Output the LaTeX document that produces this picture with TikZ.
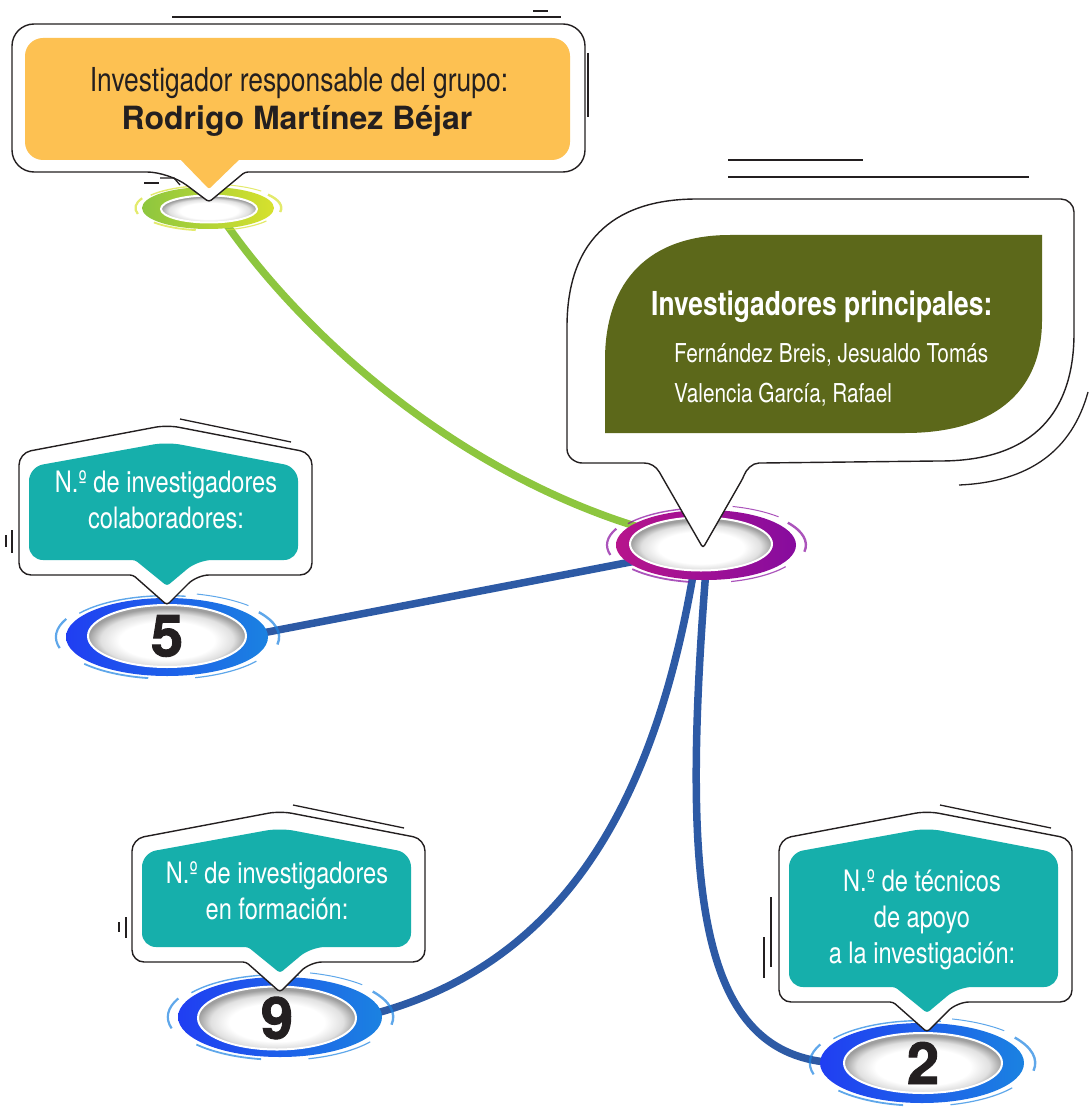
\documentclass[tikz,border=0pt]{standalone}
\usepackage{fontspec}
\setmainfont{TeX Gyre Heros}
\newfontfamily\condfont{TeX Gyre Heros}[FakeStretch=0.8]
\newfontfamily\digitfont{TeX Gyre Heros Bold}[FakeBold=1.6]
\usetikzlibrary{shapes.geometric,backgrounds}

\definecolor{inkgray}{RGB}{35,31,32}
\definecolor{leadorange}{RGB}{253,193,82}
\definecolor{pileaf}{RGB}{92,104,26}
\definecolor{tealfill}{RGB}{22,175,171}
\definecolor{linkgreen}{RGB}{141,198,63}
\definecolor{linkblue}{RGB}{45,90,165}
\definecolor{ringgreen}{RGB}{141,198,63}
\definecolor{ringyellow}{RGB}{215,225,45}
\definecolor{ringmagenta}{RGB}{182,20,140}
\definecolor{ringpurple}{RGB}{135,12,158}
\definecolor{ringblue}{RGB}{32,62,242}
\definecolor{ringsky}{RGB}{27,130,225}

\pgfdeclareradialshading{holeshade}{\pgfpoint{0bp}{-5bp}}{%
  color(0bp)=(white); color(15bp)=(white); color(21bp)=(black!12);
  color(25bp)=(black!38); color(50bp)=(black!38)}

% brush ring: x, y, x radius, y radius, left colour, right colour
\newcommand{\brushring}[6]{%
  \shade[left color=#5, right color=#6] (#1,#2) ellipse[x radius=#3, y radius=#4];
  \foreach \sa/\ea/\sc/\lw in {165/205/1.10/2.2, 215/280/1.06/1.4, 325/370/1.11/2.4,
      35/75/1.08/1.2, 100/140/1.07/1.8, 285/315/1.14/1}
    \draw[#6, line width=\lw, opacity=.7] (#1,#2) ++(\sa:{#3*\sc} and {#4*\sc})
      arc[start angle=\sa, end angle=\ea, x radius=#3*\sc, y radius=#4*\sc];
}

\tikzset{
  outline/.style={draw=inkgray, line width=1.4pt, fill=white},
  echoline/.style={draw=inkgray, line width=1.3pt},
  hole/.style={ellipse, inner sep=0pt, draw=white, line width=2pt,
    shading=holeshade, font=\digitfont\fontsize{58}{58}\selectfont, text=inkgray},
  greenlink/.style={draw=linkgreen, line width=7.5pt},
  bluelink/.style={draw=linkblue, line width=7.5pt},
  leadtext/.style={inner sep=0pt, text=inkgray, font=\condfont\fontsize{33}{40}\selectfont},
  leadname/.style={inner sep=0pt, text=inkgray, font=\bfseries\fontsize{32}{38}\selectfont},
  pihead/.style={inner sep=0pt, text=white, font=\condfont\bfseries\fontsize{33}{40}\selectfont},
  piname/.style={inner sep=0pt, text=white, font=\condfont\fontsize{26}{38}\selectfont},
  tealtext/.style={inner sep=0pt, text=white, align=center,
    font=\condfont\fontsize{29.5}{36}\selectfont},
  pics/bubble/.style={code={
    \draw[outline, rounded corners=12] (0,0) -- (145,28) -- (145,#1) -- (30,#1)
      [rounded corners=3] -- (0,#1+30) -- (-34,#1) [rounded corners=12]
      -- (-148,#1) -- (-148,28) -- cycle;
    \fill[tealfill, rounded corners=14] (0,17) -- (131,42) -- (131,#1-15) -- (31,#1-15)
      [rounded corners=3] -- (0,#1+11) -- (-32,#1-15) [rounded corners=14]
      -- (-138,#1-15) -- (-138,42) -- cycle;
    \draw[echoline] (13,-6) -- (124,17);
  }}
}

\begin{document}
\begin{tikzpicture}[x=1pt,y=-1pt]
  \useasboundingbox (0,0) rectangle (1088,1107);

  % rings
  \brushring{208}{208}{66}{21}{ringgreen}{ringyellow}
  \brushring{706}{545}{90}{35}{ringmagenta}{ringpurple}
  \brushring{167}{637}{101}{39}{ringblue}{ringsky}
  \brushring{280}{1017}{102}{40}{ringblue}{ringsky}
  \brushring{922}{1063}{102}{40}{ringblue}{ringsky}

  \node[hole, minimum width=96, minimum height=27] (lead) at (209,209) {};
  \node[hole, minimum width=142, minimum height=53] (hub) at (701,544) {};
  \node[hole, minimum width=158, minimum height=62] (colab) at (167,636) {5};
  \node[hole, minimum width=158, minimum height=63] (train) at (277,1018) {9};
  \node[hole, minimum width=158, minimum height=60] (tech) at (923,1063) {2};

  % links
  \begin{pgfonlayer}{background}
    \draw[greenlink] (lead.-40) .. controls (300,330) and (450,470) .. (hub.165);
    \draw[bluelink] (colab.east) -- (hub.195);
    \draw[bluelink] (hub.-105) .. controls (650,830) and (545,975) .. (train.east);
    \draw[bluelink] (hub.-80) .. controls (680,900) and (700,1062) .. (tech.west);
  \end{pgfonlayer}

  % lead callout
  \draw[echoline] (172,17) -- (561,17);
  \draw[echoline] (533,11) -- (548,11);
  \draw[echoline] (588,53) -- (588,117);
  \draw[outline, rounded corners=22] (245,172) -- (585,172) -- (585,24) -- (12,24)
    -- (12,172) -- (169,172) [rounded corners=3] -- (209,202) -- cycle;
  \fill[leadorange, rounded corners=18] (25,38) rectangle (570,160);
  \fill[leadorange, rounded corners=2] (176,155) -- (209,189) -- (244,155) -- cycle;
  \draw[echoline] (144,183) -- (159,183);
  \draw[echoline] (160,178) -- (174,178) -- (180,185);
  \node[leadtext, anchor=base] (leadrole) at (299,92) {Investigador responsable del grupo:};
  \node[leadname, anchor=base] (leadperson) at (297,130) {Rodrigo Martínez Béjar};

  % principal investigators callout
  \draw[echoline] (728,160) -- (863,160);
  \draw[echoline] (728,177) -- (1029,177);
  \draw[outline, rounded corners=3] (703,548) -- (661,475)
    .. controls (656,466) and (650,463) .. (641,463) -- (585,463)
    .. controls (575,463) and (567,457) .. (567,446) -- (567,330)
    .. controls (567,235) and (620,199) .. (700,199) -- (1058,199)
    .. controls (1068,199) and (1074,205) .. (1074,215) -- (1074,330)
    .. controls (1074,420) and (1025,461) .. (937,461) -- (762,463)
    .. controls (752,463) and (746,470) .. (743,478) -- cycle;
  \draw[echoline] (1088,392) .. controls (1072,450) and (1030,482) .. (959,485);
  \fill[pileaf] (605,433) -- (605,360) .. controls (605,280) and (650,235) .. (730,235)
    -- (1042,235) -- (1042,320) .. controls (1042,395) and (990,433) .. (905,433) -- cycle;
  \node[pihead, anchor=base west] (pihead) at (651,315) {Investigadores principales:};
  \node[piname, anchor=base west] (pione) at (674,362) {Fernández Breis, Jesualdo Tomás};
  \node[piname, anchor=base west] (pitwo) at (674,402) {Valencia García, Rafael};

  % count callouts
  \pic at (167,425) {bubble=150};
  \pic at (280,811) {bubble=151};
  \pic at (927,811) {bubble=191};
  \draw[echoline] (6,535) -- (6,547);
  \draw[echoline] (12,530) -- (12,553);
  \draw[echoline] (119,922) -- (119,932);
  \draw[echoline] (126,917) -- (126,938);
  \draw[echoline] (764,937) -- (764,978);
  \draw[echoline] (771,897) -- (771,967);
  \node[tealtext, anchor=base] (colabtext) at (166,528) {N.º de investigadores\\colaboradores:};
  \node[tealtext, anchor=base] (traintext) at (277,919) {N.º de investigadores\\en formación:};
  \node[tealtext, anchor=base] (techtext) at (922,963) {N.º de técnicos\\de apoyo\\a la investigación:};
\end{tikzpicture}
\end{document}
